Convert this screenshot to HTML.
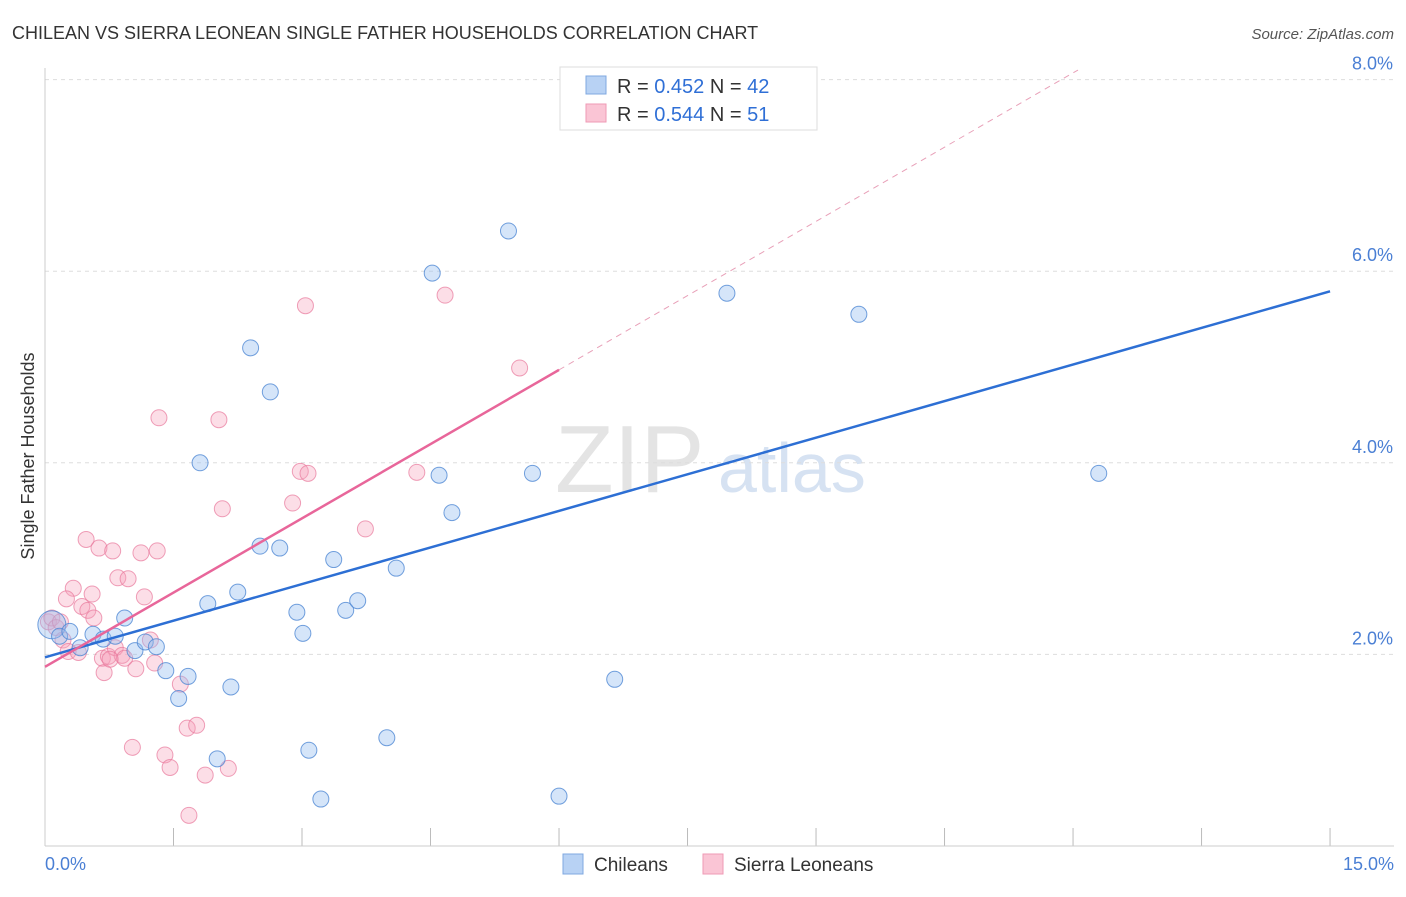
<!DOCTYPE html>
<html><head><meta charset="utf-8"><style>
body{margin:0;background:#fff;font-family:"Liberation Sans",sans-serif}
svg text{font-family:"Liberation Sans",sans-serif}
</style></head><body>
<svg width="1406" height="892" id="c">
<text x="12" y="39" font-size="18" fill="#333">CHILEAN VS SIERRA LEONEAN SINGLE FATHER HOUSEHOLDS CORRELATION CHART</text>
<text x="1394" y="39" font-size="15" fill="#555" font-style="italic" text-anchor="end">Source: ZipAtlas.com</text>
<text x="555" y="492" font-size="96" fill="#e4e4e4" font-family="Liberation Serif">ZIP</text>
<text x="718" y="492" font-size="70" fill="#d6e2f2">atlas</text>
<g id="grid"></g>
<line x1="45" y1="68" x2="45" y2="846" stroke="#ccc"/>
<line x1="45" y1="846" x2="1394" y2="846" stroke="#ccc"/>
<text x="0" y="0" transform="translate(34,456) rotate(-90)" font-size="18" fill="#333" text-anchor="middle">Single Father Households</text>
<text x="45" y="870" font-size="18" fill="#4a7fd4">0.0%</text>
<text x="1394" y="870" font-size="18" fill="#4a7fd4" text-anchor="end">15.0%</text>
<g id="marks"></g>
<g>
<rect x="560" y="67" width="257" height="63" fill="#fff" stroke="#ddd"/>
<rect x="586" y="76" width="20" height="18" fill="#b8d2f4" stroke="#7fa8e0"/>
<rect x="586" y="104" width="20" height="18" fill="#fac5d5" stroke="#ef9ab5"/>
<text x="617" y="93" font-size="20" fill="#333">R = <tspan fill="#2f6fd6">0.452</tspan>   N = <tspan fill="#2f6fd6">42</tspan></text>
<text x="617" y="121" font-size="20" fill="#333">R = <tspan fill="#2f6fd6">0.544</tspan>   N = <tspan fill="#2f6fd6"> 51</tspan></text>
</g>
<g>
<rect x="563" y="854" width="20" height="20" fill="#b8d2f4" stroke="#7fa8e0"/>
<text x="594" y="871" font-size="19" fill="#333">Chileans</text>
<rect x="703" y="854" width="20" height="20" fill="#fac5d5" stroke="#ef9ab5"/>
<text x="734" y="871" font-size="19" fill="#333">Sierra Leoneans</text>
</g>
</svg>
<script>
const yTicks=[2,4,6,8];
const xTickCount=10;
const blueX=[0.08,0.17,0.29,0.41,0.56,0.68,0.82,0.93,1.05,1.17,1.30,1.41,1.56,1.67,1.81,1.90,2.01,2.17,2.25,2.40,2.51,2.63,2.74,2.94,3.01,3.08,3.22,3.37,3.51,3.65,3.99,4.10,4.52,4.60,4.75,5.41,5.69,6.00,6.65,7.96,9.50,12.30];
const blueY=[2.31,2.19,2.24,2.07,2.21,2.16,2.19,2.38,2.04,2.13,2.08,1.83,1.54,1.77,4.0,2.53,0.91,1.66,2.65,5.20,3.13,4.74,3.11,2.44,2.22,1.00,0.49,2.99,2.46,2.56,1.13,2.90,5.98,3.87,3.48,6.42,3.89,0.52,1.74,5.77,5.55,3.89];
const pinkX=[0.04,0.08,0.13,0.18,0.21,0.27,0.33,0.39,0.43,0.48,0.50,0.55,0.57,0.63,0.67,0.69,0.74,0.79,0.82,0.85,0.90,0.93,0.97,1.02,1.06,1.12,1.16,1.28,1.31,1.33,1.40,1.46,1.58,1.66,1.68,1.77,1.87,2.03,2.07,2.14,2.89,2.98,3.04,3.07,3.74,4.34,4.67,5.54,0.25,0.76,1.23];
const pinkY=[2.34,2.38,2.28,2.34,2.15,2.03,2.69,2.02,2.50,3.20,2.46,2.63,2.38,3.11,1.96,1.81,1.98,3.08,2.07,2.80,1.99,1.96,2.79,1.03,1.85,3.06,2.60,1.91,3.08,4.47,0.95,0.82,1.69,1.23,0.32,1.26,0.74,4.45,3.52,0.81,3.58,3.91,5.64,3.89,3.31,3.90,5.75,4.99,2.58,1.95,2.15];
const blueFit=[1.97,5.79];
const pinkFit=[1.87,4.97];
const NS="http://www.w3.org/2000/svg";
const X=v=>45+v*85.67, Y=v=>846-v*95.8;
const g=document.getElementById('grid'), m=document.getElementById('marks');
function mk(p,t,a){const e=document.createElementNS(NS,t);for(const k in a)e.setAttribute(k,a[k]);p.appendChild(e);return e;}
yTicks.forEach(t=>{
 const l=mk(g,'line',{x1:45,x2:1394,y1:Y(t),y2:Y(t),stroke:'#ddd','stroke-dasharray':'4,4'});
 
 
 const tx=mk(g,'text',{x:1393,y:Y(t)-10,'font-size':18,fill:'#4a7fd4','text-anchor':'end'});
 tx.textContent=t.toFixed(1)+'%';
 
 
});
for(let i=1;i<=xTickCount;i++){const x=X(i*1.5);
 const l=mk(g,'line',{x1:x,x2:x,y1:828,y2:846,stroke:'#bbb'});
 
 }
pinkX.forEach((x,i)=>{const c=mk(m,'circle',{cx:X(x),cy:Y(pinkY[i]),r:8,fill:'rgba(246,160,186,0.35)',stroke:'rgba(232,120,155,0.7)','stroke-width':1});
 
 });
blueX.forEach((x,i)=>{const c=mk(m,'circle',{cx:X(x),cy:Y(blueY[i]),r:i==0?14:8,fill:'rgba(150,190,240,0.4)',stroke:'rgba(70,130,210,0.75)','stroke-width':1});
 
 });
const bl=mk(m,'line',{x1:X(0),y1:Y(blueFit[0]),x2:X(15),y2:Y(blueFit[1]),stroke:'#2d6fd4','stroke-width':2.5});


const slope=(pinkFit[1]-pinkFit[0])/6;
const pl=mk(m,'line',{x1:X(0),y1:Y(pinkFit[0]),x2:X(6),y2:Y(pinkFit[1]),stroke:'#e8669a','stroke-width':2.5});


const xe=(8.1-pinkFit[0])/slope;
const pd=mk(m,'line',{x1:X(6),y1:Y(pinkFit[1]),x2:X(xe),y2:Y(8.1),stroke:'#e8a0b8','stroke-width':1,'stroke-dasharray':'6,5'});


</script>
</body></html>
